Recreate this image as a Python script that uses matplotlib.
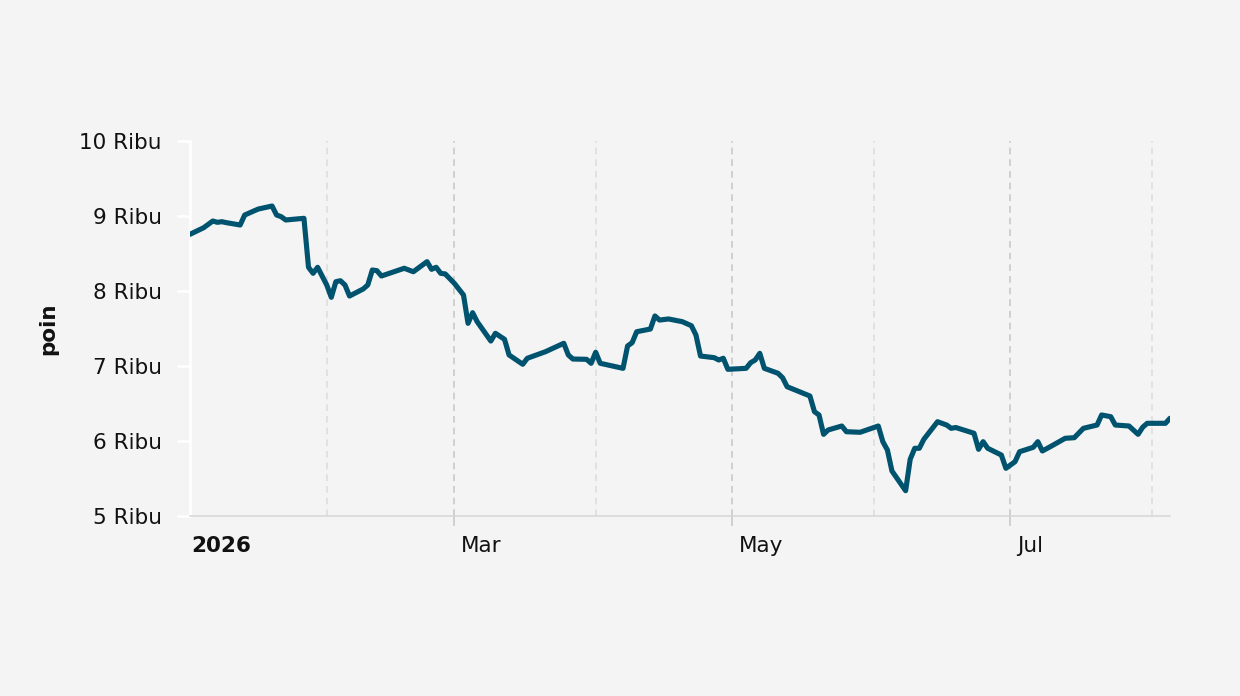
import matplotlib
matplotlib.use("Agg")
import matplotlib.pyplot as plt
import matplotlib.transforms as mtransforms
import pandas as pd

# index level (poin)
dates = [
    "2026-01-02", "2026-01-05", "2026-01-07", "2026-01-08", "2026-01-09", "2026-01-10",
    "2026-01-13", "2026-01-14", "2026-01-16", "2026-01-17", "2026-01-20", "2026-01-21",
    "2026-01-22", "2026-01-23", "2026-01-27", "2026-01-28", "2026-01-29", "2026-01-30",
    "2026-02-01", "2026-02-02", "2026-02-03", "2026-02-04", "2026-02-05", "2026-02-06",
    "2026-02-09", "2026-02-10", "2026-02-11", "2026-02-12", "2026-02-13", "2026-02-18",
    "2026-02-20", "2026-02-23", "2026-02-24", "2026-02-25", "2026-02-26", "2026-02-27",
    "2026-03-01", "2026-03-03", "2026-03-04", "2026-03-05", "2026-03-06", "2026-03-09",
    "2026-03-10", "2026-03-12", "2026-03-13", "2026-03-16", "2026-03-17", "2026-03-21",
    "2026-03-25", "2026-03-26", "2026-03-27", "2026-03-30", "2026-03-31", "2026-04-01",
    "2026-04-02", "2026-04-07", "2026-04-08", "2026-04-09", "2026-04-10", "2026-04-13",
    "2026-04-14", "2026-04-15", "2026-04-17", "2026-04-20", "2026-04-22", "2026-04-23",
    "2026-04-24", "2026-04-27", "2026-04-28", "2026-04-29", "2026-04-30", "2026-05-04",
    "2026-05-05", "2026-05-06", "2026-05-07", "2026-05-08", "2026-05-11", "2026-05-12",
    "2026-05-13", "2026-05-18", "2026-05-19", "2026-05-20", "2026-05-21", "2026-05-22",
    "2026-05-25", "2026-05-26", "2026-05-29", "2026-06-02", "2026-06-03", "2026-06-04",
    "2026-06-05", "2026-06-08", "2026-06-09", "2026-06-10", "2026-06-11", "2026-06-12",
    "2026-06-15", "2026-06-17", "2026-06-18", "2026-06-19", "2026-06-23", "2026-06-24",
    "2026-06-25", "2026-06-26", "2026-06-29", "2026-06-30", "2026-07-02", "2026-07-03",
    "2026-07-06", "2026-07-07", "2026-07-08", "2026-07-10", "2026-07-13", "2026-07-15",
    "2026-07-17", "2026-07-20", "2026-07-21", "2026-07-23", "2026-07-24", "2026-07-27",
    "2026-07-29", "2026-07-30", "2026-07-31", "2026-08-04", "2026-08-05",
]
values = [
    8756, 8844, 8933, 8916, 8924, 8911,
    8880, 9013, 9067, 9093, 9133, 9013,
    8991, 8947, 8969, 8316, 8236, 8316,
    8080, 7916, 8124, 8137, 8080, 7933,
    8027, 8080, 8280, 8271, 8200, 8303,
    8257, 8391, 8289, 8316, 8236, 8227,
    8102, 7947, 7569, 7711, 7591, 7333,
    7436, 7356, 7147, 7023, 7103, 7191,
    7303, 7147, 7093, 7089, 7036, 7183,
    7036, 6969, 7267, 7311, 7457, 7493,
    7667, 7613, 7627, 7591, 7537, 7413,
    7133, 7111, 7080, 7103, 6956, 6969,
    7044, 7080, 7169, 6969, 6903, 6844,
    6724, 6600, 6391, 6347, 6089, 6147,
    6200, 6124, 6116, 6200, 5991, 5880,
    5600, 5337, 5756, 5903, 5903, 6023,
    6257, 6213, 6169, 6180, 6103, 5889,
    5991, 5903, 5813, 5636, 5724, 5857,
    5916, 5991, 5867, 5933, 6036, 6044,
    6169, 6213, 6347, 6324, 6213, 6200,
    6089, 6183, 6236, 6236, 6303,
]

yticks = [5000, 6000, 7000, 8000, 9000, 10000]
ytick_labels = ["5 Ribu", "6 Ribu", "7 Ribu", "8 Ribu", "9 Ribu", "10 Ribu"]
major_months = ["2026-03-01", "2026-05-01", "2026-07-01"]
minor_months = ["2026-02-01", "2026-04-01", "2026-06-01", "2026-08-01"]
xlabel_dates = ["2026-01-01", "2026-03-01", "2026-05-01", "2026-07-01"]
xlabel_text = ["2026", "Mar", "May", "Jul"]

bg = "#f4f4f4"
line_col = "#00536f"
fs = 15.5

fig = plt.figure(figsize=(12.4, 6.96), dpi=100, facecolor=bg)
ax = fig.add_axes([190 / 1240, 1 - 516 / 696, 980 / 1240, 375 / 696])
ax.set_facecolor(bg)

x = pd.to_datetime(dates)
ax.plot(x, values, color=line_col, lw=3.7, solid_joinstyle="round",
        solid_capstyle="round", zorder=3)

ax.set_xlim(pd.Timestamp("2026-01-02"), pd.Timestamp("2026-08-05"))
ax.set_ylim(5000, 10000)

# gridlines
for d in minor_months:
    ax.axvline(pd.Timestamp(d), color="#dedede", lw=1.2, dashes=(4, 3), zorder=1)
for d in major_months:
    ax.axvline(pd.Timestamp(d), color="#c9c9c9", lw=1.2, dashes=(4, 3), zorder=1)

# y axis
ax.set_yticks(yticks, ytick_labels)
ax.tick_params(axis="y", length=9.5, width=1.8, color="white", pad=11,
               labelsize=fs, labelcolor="#111111")

# x axis: ticks only, labels drawn by hand (left aligned after the tick)
ax.set_xticks(pd.to_datetime(major_months))
ax.set_xticklabels([])
ax.tick_params(axis="x", length=7.2, width=1.2, color="#c9c9c9")

offset = mtransforms.ScaledTranslation(4.5 / 72, -26 / 72, fig.dpi_scale_trans)
trans = ax.get_xaxis_transform() + offset
for d, t in zip(xlabel_dates, xlabel_text):
    ax.text(pd.Timestamp(d), 0, t, transform=trans, ha="left", va="baseline",
            fontsize=fs, color="#111111",
            fontweight="bold" if t == "2026" else "normal", clip_on=False)

for s in ["top", "right"]:
    ax.spines[s].set_visible(False)
ax.spines["left"].set_color("white")
ax.spines["left"].set_linewidth(1.8)
ax.spines["bottom"].set_color("#d6d6d6")
ax.spines["bottom"].set_linewidth(1.1)

fig.text(48 / 1240, 1 - 328.5 / 696, "poin", rotation=90, ha="center",
         va="center", fontsize=fs, fontweight="bold", color="#111111")

fig.savefig("out.png", dpi=100, facecolor=bg)
